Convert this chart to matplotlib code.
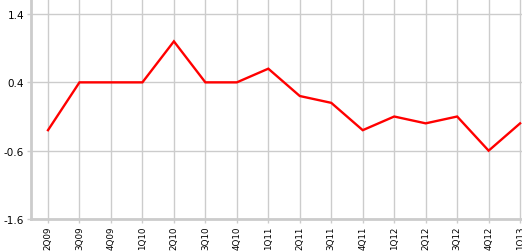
import matplotlib
matplotlib.use("Agg")
import matplotlib.pyplot as plt

quarters = ["2Q09", "3Q09", "4Q09", "1Q10", "2Q10", "3Q10", "4Q10", "1Q11",
            "2Q11", "3Q11", "4Q11", "1Q12", "2Q12", "3Q12", "4Q12", "1Q13"]
values = [-0.3, 0.4, 0.4, 0.4, 1.0, 0.4, 0.4, 0.6,
          0.2, 0.1, -0.3, -0.1, -0.2, -0.1, -0.6, -0.2]
yticks = [-1.6, -0.6, 0.4, 1.4]
ytick_labels = ["-1.6", "-0.6", "0.4", "1.4"]

W, H, DPI = 522, 253, 100
fig = plt.figure(figsize=(W / DPI, H / DPI), dpi=DPI)
ax = fig.add_axes([31 / W, 33 / H, 1 - 31 / W, 1 - 33 / H])

x = list(range(len(quarters)))
ax.plot(x, values, color="#ff0000", lw=1.7, solid_joinstyle="miter", zorder=3, clip_on=False)

ax.set_xlim(-0.54, 15.06)
ax.set_ylim(-1.6, 1.62)
ax.set_xticks(x)
ax.set_xticklabels(quarters, rotation=90, fontsize=6.3, family="DejaVu Sans")
ax.set_yticks(yticks)
ax.set_yticklabels(ytick_labels, fontsize=7.5, family="DejaVu Sans")

ax.grid(True, color="#cccccc", lw=1.0)
ax.set_axisbelow(True)
for s in ["top", "right"]:
    ax.spines[s].set_visible(False)
for s in ["left", "bottom"]:
    ax.spines[s].set_color("#cccccc")
    ax.spines[s].set_linewidth(2.0)
ax.tick_params(axis="both", color="#cccccc", length=3, width=1, pad=2, labelcolor="#000000")
ax.tick_params(axis="x", pad=1.5)

fig.savefig("out.png", dpi=DPI)
